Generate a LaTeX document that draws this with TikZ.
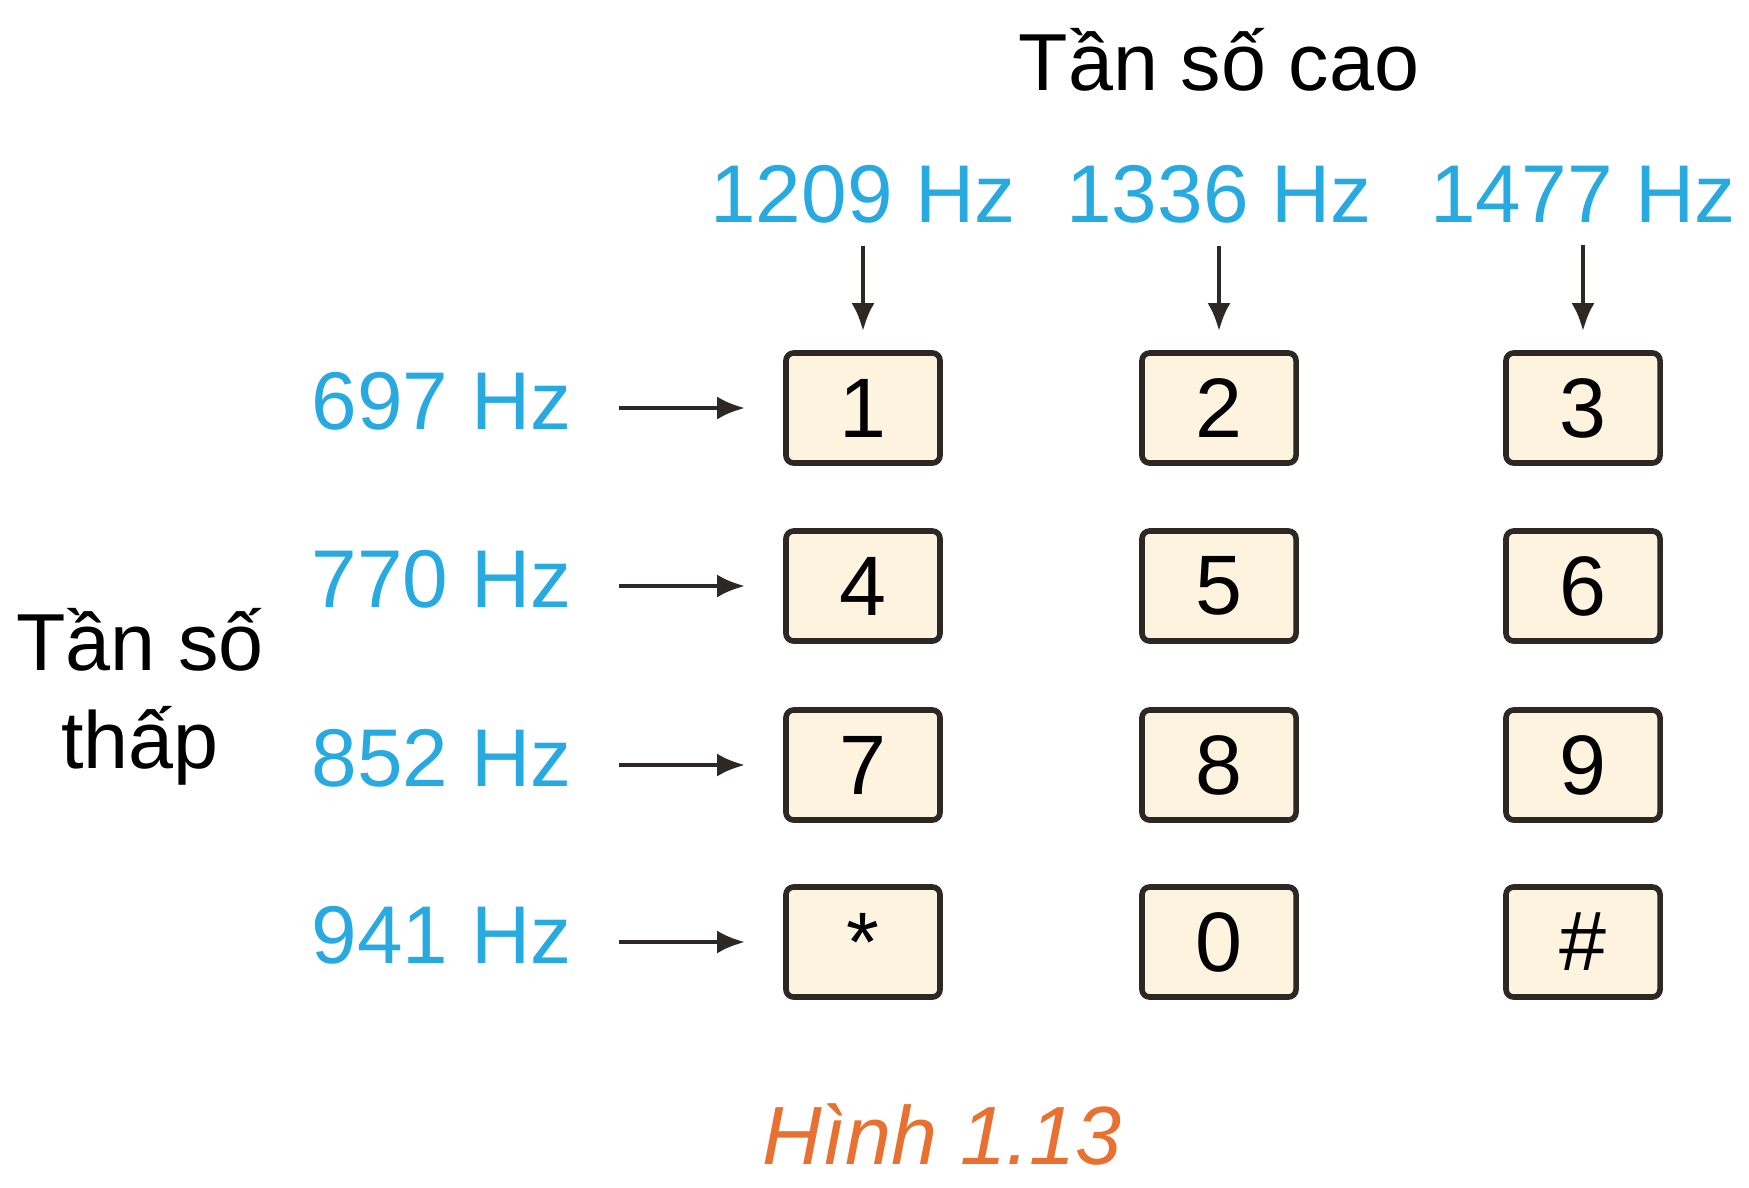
\documentclass[tikz,border=0pt]{standalone}
\usepackage{fontspec}
\setmainfont{Liberation Sans}
\usetikzlibrary{arrows.meta}
\definecolor{hzblue}{RGB}{40,170,225}
\definecolor{figorange}{RGB}{232,112,48}
\definecolor{keyfill}{RGB}{253,243,222}
\definecolor{keyline}{RGB}{45,40,35}
\begin{document}
\begin{tikzpicture}[x=0.01cm, y=-0.01cm,
		key/.style={draw=keyline, fill=keyfill, line width=1.6pt, rounded corners=2.2pt,
			minimum width=1.54cm, minimum height=1.10cm, inner sep=0pt,
			font=\fontsize{24}{28}\selectfont},
		freq/.style={text=hzblue, inner sep=0pt, font=\fontsize{23.3}{28}\selectfont},
		title/.style={inner sep=0pt, font=\fontsize{23}{27.8}\selectfont},
		tone/.style={draw=keyline, line width=1.3pt, -{Latex[length=2.8mm, width=2.3mm]}}]
		\useasboundingbox (0,0) rectangle (1749,1187);
		% titles
		\node[title, anchor=base] (high) at (1219,90) {Tần số cao};
		\node[title, anchor=base, align=center] (low) at (140,768) {Tần số\\thấp};
		% column frequencies
		\node[freq, anchor=base] (f1209) at (863,222) {1209 Hz};
		\node[freq, anchor=base] (f1336) at (1219,222) {1336 Hz};
		\node[freq, anchor=base] (f1477) at (1583,222) {1477 Hz};
		% row frequencies
		\node[freq, anchor=base east] (f697) at (572,429) {697 Hz};
		\node[freq, anchor=base east] (f770) at (572,607) {770 Hz};
		\node[freq, anchor=base east] (f852) at (572,786) {852 Hz};
		\node[freq, anchor=base east] (f941) at (572,963) {941 Hz};
		% keypad
		\node[key] (k1) at (863,408) {1};
		\node[key] (k2) at (1219,408) {2};
		\node[key] (k3) at (1583,408) {3};
		\node[key] (k4) at (863,586) {4};
		\node[key] (k5) at (1219,586) {5};
		\node[key] (k6) at (1583,586) {6};
		\node[key] (k7) at (863,765) {7};
		\node[key] (k8) at (1219,765) {8};
		\node[key] (k9) at (1583,765) {9};
		\node[key] (kstar) at (863,942) {*};
		\node[key] (k0) at (1219,942) {0};
		\node[key] (khash) at (1583,942) {\#};
		% arrows
		\draw[tone, shorten <=0.22cm, shorten >=0.19cm] (f1209.south) -- (k1.north);
		\draw[tone, shorten <=0.22cm, shorten >=0.19cm] (f1336.south) -- (k2.north);
		\draw[tone, shorten <=0.22cm, shorten >=0.19cm] (f1477.south) -- (k3.north);
		\draw[tone, shorten <=0.47cm, shorten >=0.38cm] (f697.east |- k1.west) -- (k1.west);
		\draw[tone, shorten <=0.47cm, shorten >=0.38cm] (f770.east |- k4.west) -- (k4.west);
		\draw[tone, shorten <=0.47cm, shorten >=0.38cm] (f852.east |- k7.west) -- (k7.west);
		\draw[tone, shorten <=0.47cm, shorten >=0.38cm] (f941.east |- kstar.west) -- (kstar.west);
		% caption
		\node[title, anchor=base, text=figorange, font=\fontsize{23.5}{28}\selectfont\itshape] (caption) at (942,1164) {Hình 1.13};
\end{tikzpicture}
\end{document}
